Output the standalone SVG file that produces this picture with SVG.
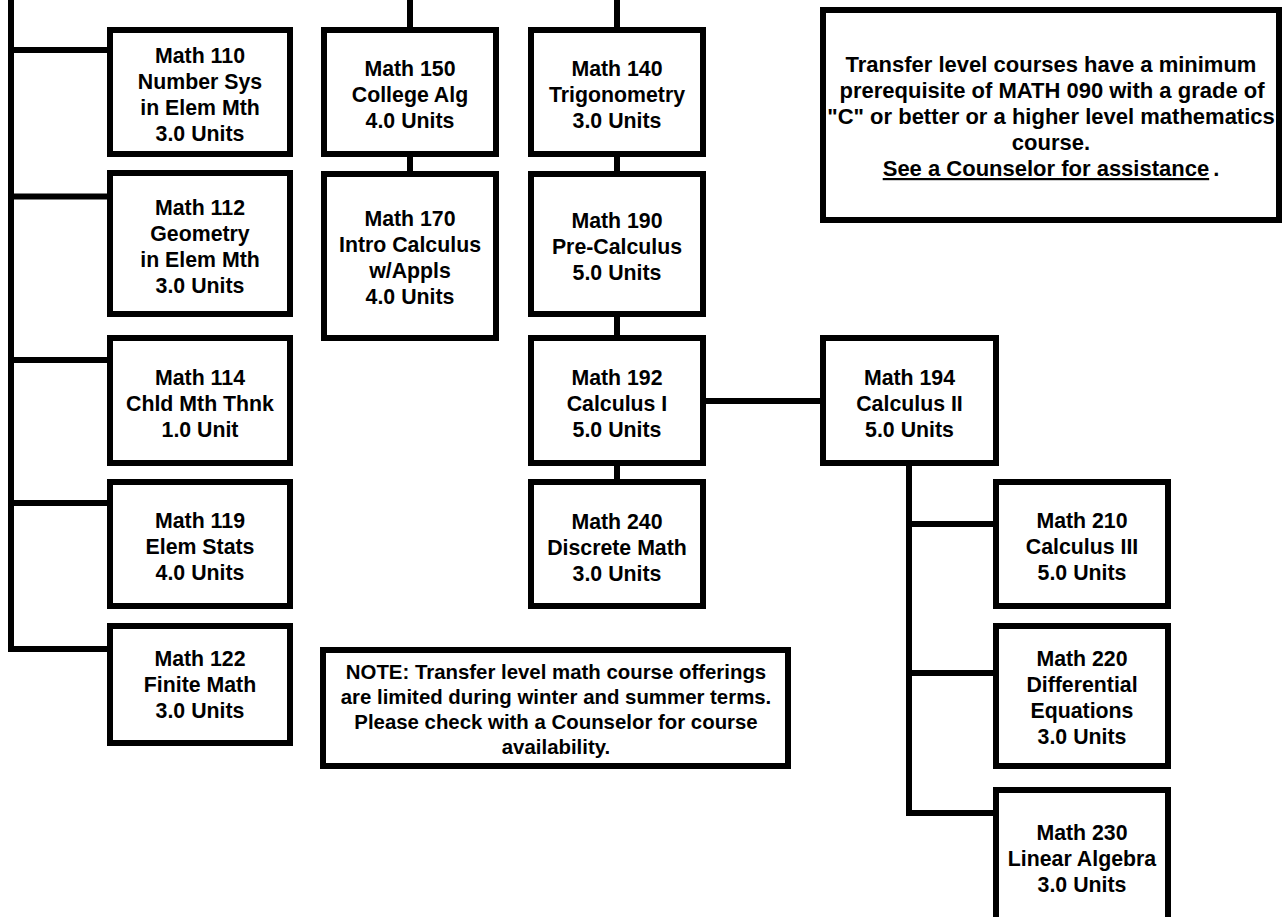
<svg xmlns="http://www.w3.org/2000/svg" width="1282" height="917" viewBox="0 0 1282 917">
<style>
.box{fill:#fff;stroke:#000;stroke-width:6}
.c{fill:none;stroke:#000;stroke-width:6;stroke-linejoin:miter;stroke-linecap:butt}
text{font-family:"Liberation Sans",Arial,sans-serif;font-weight:bold;font-size:21.3px;fill:#000;text-anchor:middle}
.t{font-size:22px}
.n{font-size:20.4px}
</style>
<rect width="1282" height="917" fill="#fff"/>
<g id="connectors">
<path class="c" d="M11,0 V649 H107"/>
<path class="c" d="M11,50 H107 M11,196.5 H107 M11,360 H107 M11,503 H107"/>
<path class="c" d="M410,0 V27 M410,157 V171"/>
<path class="c" d="M617,0 V27 M617,157 V171 M617,317 V335 M617,466 V479"/>
<path class="c" d="M706,401 H820"/>
<path class="c" d="M909,466 V813 H993 M909,524 H993 M909,673 H993"/>
</g>
<g id="m110"><rect class="box" x="110" y="30" width="180" height="124"/>
<text x="200" y="63">Math 110</text><text x="200" y="89">Number Sys</text><text x="200" y="115">in Elem Mth</text><text x="200" y="141">3.0 Units</text></g>
<g id="m112"><rect class="box" x="110" y="173" width="180" height="141"/>
<text x="200" y="215">Math 112</text><text x="200" y="241">Geometry</text><text x="200" y="267">in Elem Mth</text><text x="200" y="293">3.0 Units</text></g>
<g id="m114"><rect class="box" x="110" y="338" width="180" height="125"/>
<text x="200" y="385">Math 114</text><text x="200" y="411">Chld Mth Thnk</text><text x="200" y="437">1.0 Unit</text></g>
<g id="m119"><rect class="box" x="110" y="482" width="180" height="124"/>
<text x="200" y="528">Math 119</text><text x="200" y="554">Elem Stats</text><text x="200" y="580">4.0 Units</text></g>
<g id="m122"><rect class="box" x="110" y="626" width="180" height="117"/>
<text x="200" y="666">Math 122</text><text x="200" y="692">Finite Math</text><text x="200" y="718">3.0 Units</text></g>
<g id="m150"><rect class="box" x="324" y="30" width="172" height="124"/>
<text x="410" y="76">Math 150</text><text x="410" y="102">College Alg</text><text x="410" y="128">4.0 Units</text></g>
<g id="m170"><rect class="box" x="324" y="174" width="172" height="164"/>
<text x="410" y="226">Math 170</text><text x="410" y="252">Intro Calculus</text><text x="410" y="278">w/Appls</text><text x="410" y="304">4.0 Units</text></g>
<g id="m140"><rect class="box" x="531" y="30" width="172" height="124"/>
<text x="617" y="76">Math 140</text><text x="617" y="102">Trigonometry</text><text x="617" y="128">3.0 Units</text></g>
<g id="m190"><rect class="box" x="531" y="174" width="172" height="140"/>
<text x="617" y="228">Math 190</text><text x="617" y="254">Pre-Calculus</text><text x="617" y="280">5.0 Units</text></g>
<g id="m192"><rect class="box" x="531" y="338" width="172" height="125"/>
<text x="617" y="385">Math 192</text><text x="617" y="411">Calculus I</text><text x="617" y="437">5.0 Units</text></g>
<g id="m240"><rect class="box" x="531" y="482" width="172" height="124"/>
<text x="617" y="529">Math 240</text><text x="617" y="555">Discrete Math</text><text x="617" y="581">3.0 Units</text></g>
<g id="m194"><rect class="box" x="823" y="338" width="173" height="125"/>
<text x="909.5" y="385">Math 194</text><text x="909.5" y="411">Calculus II</text><text x="909.5" y="437">5.0 Units</text></g>
<g id="m210"><rect class="box" x="996" y="482" width="172" height="124"/>
<text x="1082" y="528">Math 210</text><text x="1082" y="554">Calculus III</text><text x="1082" y="580">5.0 Units</text></g>
<g id="m220"><rect class="box" x="996" y="626" width="172" height="140"/>
<text x="1082" y="666">Math 220</text><text x="1082" y="692">Differential</text><text x="1082" y="718">Equations</text><text x="1082" y="744">3.0 Units</text></g>
<g id="m230"><rect class="box" x="996" y="790" width="172" height="150"/>
<text x="1082" y="840">Math 230</text><text x="1082" y="866">Linear Algebra</text><text x="1082" y="892">3.0 Units</text></g>
<g id="transfer"><rect class="box" x="823" y="10" width="456" height="210"/>
<text class="t" x="1051" y="72">Transfer level courses have a minimum</text>
<text class="t" x="1052" y="98">prerequisite of MATH 090 with a grade of</text>
<text class="t" x="1051" y="124">"C" or better or a higher level mathematics</text>
<text class="t" x="1051" y="150">course.</text>
<text class="t" x="1051" y="176"><tspan text-decoration="underline">See a Counselor for assistance</tspan><tspan dx="4">.</tspan></text>
</g>
<g id="note"><rect class="box" x="323" y="650" width="465" height="116"/>
<text class="n" x="556" y="679">NOTE: Transfer level math course offerings</text>
<text class="n" x="556" y="704">are limited during winter and summer terms.</text>
<text class="n" x="556" y="729">Please check with a Counselor for course</text>
<text class="n" x="556" y="754">availability.</text>
</g>
</svg>
